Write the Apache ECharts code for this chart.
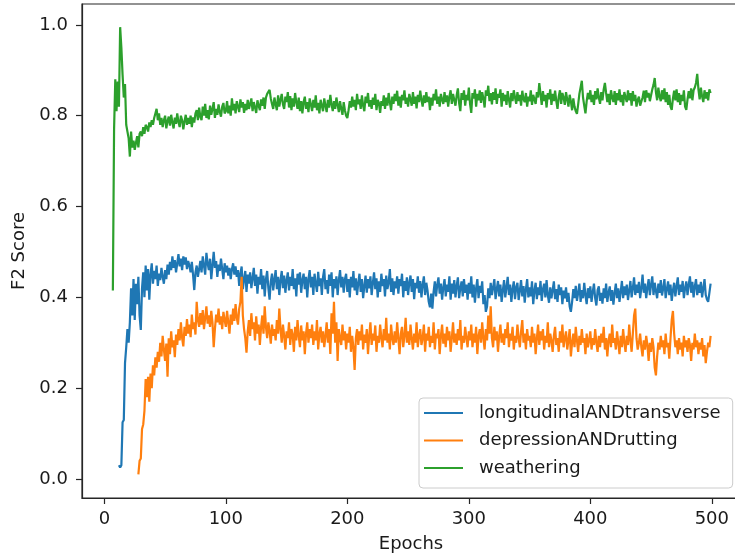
<!DOCTYPE html>
<html>
<head>
<meta charset="utf-8">
<script src="https://cdn.jsdelivr.net/npm/echarts@6/dist/echarts.min.js"></script>
<style>
  html, body { margin: 0; padding: 0; background: #fff; }
  #chart { width: 735px; height: 558px; }
</style>
</head>
<body>
<div id="chart"></div>
<script>
// first epoch of each series (earlier epochs have no value)
const blueStart = 12
const orangeStart = 28
const greenStart = 7

const xTicks = [0, 100, 200, 300, 400, 500]
const yTicks = [0, 0.2, 0.4, 0.6, 0.8, 1.0]

const seriesNames = ['longitudinalANDtransverse', 'depressionANDrutting', 'weathering']

// longitudinalANDtransverse, epochs 12..499
const blueValues = [
  0.03, 0.025, 0.03, 0.125, 0.13, 0.255, 0.29, 0.33,
  0.3, 0.345, 0.42, 0.36, 0.44, 0.35, 0.43, 0.385, 0.445, 0.36,
  0.328, 0.42, 0.455, 0.4, 0.47, 0.415, 0.462, 0.395, 0.45, 0.475,
  0.43, 0.458, 0.44, 0.47, 0.425, 0.452, 0.438, 0.465, 0.445, 0.43,
  0.46, 0.44, 0.472, 0.45, 0.478, 0.46, 0.49, 0.465, 0.482, 0.455,
  0.475, 0.495, 0.468, 0.485, 0.46, 0.49, 0.472, 0.488, 0.462, 0.48,
  0.47, 0.455, 0.478, 0.45, 0.416, 0.455, 0.47, 0.445, 0.462, 0.48,
  0.455, 0.49, 0.47, 0.45, 0.498, 0.475, 0.46, 0.485, 0.44, 0.47,
  0.5, 0.465, 0.48, 0.445, 0.472, 0.458, 0.485, 0.462, 0.44, 0.475,
  0.455, 0.47, 0.448, 0.465, 0.44, 0.462, 0.475, 0.45, 0.468, 0.445,
  0.46, 0.425, 0.452, 0.468, 0.418, 0.44, 0.458, 0.412, 0.45, 0.43,
  0.455, 0.42, 0.442, 0.465, 0.425, 0.45, 0.408, 0.445, 0.428, 0.462,
  0.418, 0.448, 0.402, 0.44, 0.458, 0.42, 0.395, 0.435, 0.452, 0.415,
  0.44, 0.46, 0.418, 0.445, 0.405, 0.438, 0.458, 0.42, 0.448, 0.41,
  0.438, 0.455, 0.415, 0.445, 0.425, 0.462, 0.418, 0.442, 0.402, 0.452,
  0.428, 0.455, 0.41, 0.438, 0.452, 0.418, 0.445, 0.4, 0.44, 0.46,
  0.422, 0.445, 0.405, 0.452, 0.43, 0.412, 0.456, 0.425, 0.442, 0.405,
  0.445, 0.462, 0.418, 0.438, 0.408, 0.45, 0.425, 0.455, 0.4, 0.44,
  0.42, 0.446, 0.405, 0.438, 0.46, 0.422, 0.445, 0.41, 0.44, 0.452,
  0.412, 0.44, 0.4, 0.445, 0.422, 0.458, 0.415, 0.442, 0.405, 0.432,
  0.452, 0.412, 0.44, 0.398, 0.425, 0.448, 0.41, 0.44, 0.42, 0.446,
  0.405, 0.432, 0.455, 0.418, 0.442, 0.4, 0.435, 0.412, 0.452, 0.425,
  0.44, 0.402, 0.448, 0.418, 0.432, 0.462, 0.412, 0.442, 0.405, 0.435,
  0.42, 0.446, 0.408, 0.44, 0.425, 0.452, 0.4, 0.436, 0.414, 0.444,
  0.405, 0.432, 0.448, 0.412, 0.44, 0.396, 0.432, 0.42, 0.446, 0.41,
  0.436, 0.4, 0.428, 0.446, 0.405, 0.432, 0.415, 0.39, 0.378, 0.408,
  0.375, 0.412, 0.435, 0.402, 0.428, 0.444, 0.408, 0.43, 0.395, 0.422,
  0.44, 0.402, 0.428, 0.412, 0.446, 0.395, 0.43, 0.408, 0.438, 0.4,
  0.425, 0.444, 0.398, 0.42, 0.435, 0.402, 0.44, 0.41, 0.428, 0.395,
  0.432, 0.408, 0.446, 0.4, 0.428, 0.388, 0.42, 0.44, 0.398, 0.425,
  0.41, 0.435, 0.385, 0.405, 0.368, 0.38, 0.42, 0.398, 0.432, 0.405,
  0.422, 0.44, 0.396, 0.418, 0.436, 0.402, 0.428, 0.39, 0.415, 0.438,
  0.4, 0.422, 0.445, 0.405, 0.428, 0.39, 0.418, 0.435, 0.396, 0.422,
  0.432, 0.394, 0.415, 0.438, 0.402, 0.425, 0.388, 0.418, 0.44, 0.4,
  0.422, 0.402, 0.435, 0.385, 0.415, 0.432, 0.396, 0.422, 0.405, 0.436,
  0.392, 0.418, 0.43, 0.4, 0.438, 0.405, 0.388, 0.422, 0.398, 0.416,
  0.435, 0.396, 0.418, 0.39, 0.428, 0.405, 0.422, 0.385, 0.415, 0.398,
  0.422, 0.39, 0.41, 0.38, 0.368, 0.39, 0.418, 0.398, 0.425, 0.392,
  0.41, 0.43, 0.39, 0.416, 0.398, 0.432, 0.405, 0.385, 0.42, 0.398,
  0.424, 0.39, 0.412, 0.43, 0.398, 0.382, 0.416, 0.424, 0.392, 0.41,
  0.386, 0.42, 0.398, 0.43, 0.39, 0.41, 0.424, 0.392, 0.416, 0.384,
  0.41, 0.43, 0.398, 0.42, 0.39, 0.412, 0.436, 0.398, 0.424, 0.405,
  0.428, 0.394, 0.415, 0.436, 0.4, 0.42, 0.444, 0.405, 0.428, 0.41,
  0.434, 0.398, 0.42, 0.45, 0.41, 0.43, 0.398, 0.422, 0.44, 0.405,
  0.428, 0.446, 0.405, 0.432, 0.414, 0.398, 0.43, 0.41, 0.438, 0.404,
  0.42, 0.44, 0.398, 0.418, 0.435, 0.405, 0.428, 0.392, 0.415, 0.432,
  0.402, 0.424, 0.444, 0.405, 0.428, 0.412, 0.436, 0.398, 0.42, 0.435,
  0.405, 0.428, 0.446, 0.41, 0.434, 0.4, 0.424, 0.44, 0.405, 0.428,
  0.41, 0.434, 0.4, 0.42, 0.44, 0.405, 0.395, 0.39, 0.41, 0.43
]

// depressionANDrutting, epochs 28..499
const orangeValues = [
  0.01, 0.04,
  0.045, 0.11, 0.12, 0.15, 0.22, 0.18, 0.225, 0.17, 0.232, 0.2,
  0.25, 0.228, 0.268, 0.245, 0.28, 0.258, 0.3, 0.27, 0.315, 0.285,
  0.26, 0.298, 0.225, 0.31, 0.275, 0.325, 0.29, 0.305, 0.268, 0.318,
  0.295, 0.33, 0.305, 0.345, 0.31, 0.292, 0.335, 0.315, 0.352, 0.32,
  0.34, 0.312, 0.362, 0.33, 0.345, 0.318, 0.39, 0.35, 0.335, 0.365,
  0.34, 0.372, 0.33, 0.355, 0.38, 0.342, 0.36, 0.335, 0.37, 0.345,
  0.29, 0.33, 0.362, 0.345, 0.375, 0.34, 0.358, 0.33, 0.368, 0.35,
  0.335, 0.37, 0.345, 0.32, 0.362, 0.34, 0.375, 0.348, 0.385, 0.355,
  0.34, 0.375, 0.39, 0.445, 0.36, 0.33, 0.31, 0.278, 0.325, 0.35,
  0.315, 0.365, 0.33, 0.345, 0.305, 0.358, 0.32, 0.34, 0.295, 0.335,
  0.36, 0.32, 0.38, 0.335, 0.31, 0.345, 0.325, 0.298, 0.34, 0.315,
  0.33, 0.305, 0.35, 0.32, 0.375, 0.33, 0.3, 0.34, 0.315, 0.285,
  0.325, 0.31, 0.345, 0.295, 0.33, 0.318, 0.28, 0.335, 0.305, 0.35,
  0.315, 0.29, 0.338, 0.305, 0.325, 0.275, 0.32, 0.345, 0.3, 0.33,
  0.31, 0.34, 0.295, 0.325, 0.305, 0.35, 0.285, 0.32, 0.335, 0.3,
  0.325, 0.29, 0.315, 0.345, 0.3, 0.33, 0.275, 0.365, 0.32, 0.39,
  0.3, 0.345, 0.26, 0.33, 0.31, 0.295, 0.34, 0.305, 0.325, 0.285,
  0.32, 0.3, 0.335, 0.28, 0.315, 0.29, 0.24, 0.31, 0.33, 0.295,
  0.325, 0.305, 0.34, 0.285, 0.318, 0.3, 0.33, 0.275, 0.315, 0.345,
  0.295, 0.32, 0.305, 0.338, 0.28, 0.315, 0.3, 0.34, 0.31, 0.29,
  0.33, 0.305, 0.355, 0.3, 0.32, 0.285, 0.34, 0.31, 0.295, 0.325,
  0.3, 0.345, 0.31, 0.275, 0.32, 0.335, 0.29, 0.315, 0.355, 0.3,
  0.325, 0.295, 0.34, 0.31, 0.285, 0.32, 0.3, 0.345, 0.29, 0.315,
  0.33, 0.295, 0.31, 0.34, 0.28, 0.32, 0.305, 0.335, 0.29, 0.315,
  0.3, 0.345, 0.285, 0.32, 0.31, 0.33, 0.275, 0.315, 0.34, 0.298,
  0.32, 0.29, 0.335, 0.305, 0.325, 0.28, 0.31, 0.345, 0.3, 0.32,
  0.295, 0.33, 0.305, 0.35, 0.285, 0.315, 0.3, 0.335, 0.31, 0.29,
  0.325, 0.305, 0.34, 0.29, 0.32, 0.3, 0.335, 0.275, 0.315, 0.33,
  0.3, 0.345, 0.31, 0.285, 0.33, 0.305, 0.36, 0.32, 0.38, 0.31,
  0.29, 0.335, 0.305, 0.325, 0.28, 0.315, 0.34, 0.3, 0.32, 0.295,
  0.33, 0.31, 0.345, 0.29, 0.32, 0.305, 0.335, 0.285, 0.315, 0.3,
  0.34, 0.31, 0.29, 0.325, 0.35, 0.3, 0.32, 0.285, 0.33, 0.305,
  0.315, 0.29, 0.335, 0.3, 0.32, 0.275, 0.31, 0.34, 0.295, 0.325,
  0.305, 0.33, 0.285, 0.315, 0.3, 0.345, 0.29, 0.32, 0.305, 0.28,
  0.315, 0.335, 0.295, 0.31, 0.28, 0.325, 0.3, 0.34, 0.29, 0.31,
  0.325, 0.285, 0.305, 0.33, 0.27, 0.3, 0.32, 0.29, 0.335, 0.305,
  0.28, 0.315, 0.295, 0.33, 0.3, 0.31, 0.275, 0.32, 0.29, 0.305,
  0.325, 0.285, 0.31, 0.295, 0.33, 0.3, 0.28, 0.315, 0.29, 0.32,
  0.3, 0.335, 0.285, 0.31, 0.27, 0.305, 0.32, 0.29, 0.34, 0.3,
  0.31, 0.285, 0.325, 0.3, 0.275, 0.315, 0.29, 0.33, 0.3, 0.28,
  0.315, 0.295, 0.34, 0.305, 0.28, 0.32, 0.36, 0.375, 0.31, 0.285,
  0.3, 0.32, 0.29, 0.27, 0.305, 0.285, 0.315, 0.295, 0.26, 0.3,
  0.28, 0.31, 0.29, 0.245, 0.228, 0.27, 0.3, 0.285, 0.315, 0.29,
  0.305, 0.275, 0.32, 0.29, 0.3, 0.265, 0.31, 0.35, 0.37, 0.32,
  0.29, 0.305, 0.275, 0.31, 0.285, 0.3, 0.27, 0.315, 0.29, 0.305,
  0.28, 0.31, 0.295, 0.26, 0.3, 0.285, 0.32, 0.29, 0.305, 0.275,
  0.3, 0.285, 0.31, 0.27, 0.295, 0.255, 0.28, 0.3, 0.29, 0.315
]

// weathering, epochs 7..499
const greenValues = [
  0.415, 0.77, 0.88,
  0.81, 0.875, 0.82, 0.995, 0.95, 0.89, 0.84, 0.87, 0.78, 0.765,
  0.75, 0.71, 0.765, 0.73, 0.745, 0.725, 0.74, 0.755, 0.73, 0.76,
  0.765, 0.755, 0.775, 0.76, 0.78, 0.775, 0.765, 0.785, 0.775, 0.79,
  0.78, 0.795, 0.805, 0.815, 0.79, 0.805, 0.78, 0.795, 0.775, 0.79,
  0.8, 0.772, 0.788, 0.798, 0.778, 0.802, 0.785, 0.772, 0.796, 0.782,
  0.805, 0.786, 0.775, 0.8, 0.79, 0.77, 0.788, 0.802, 0.78, 0.795,
  0.782, 0.8, 0.775, 0.796, 0.785, 0.805, 0.812, 0.79, 0.818, 0.798,
  0.79, 0.82, 0.8, 0.826, 0.795, 0.812, 0.792, 0.822, 0.802, 0.815,
  0.83, 0.795, 0.815, 0.802, 0.825, 0.808, 0.798, 0.82, 0.828, 0.805,
  0.81, 0.832, 0.805, 0.822, 0.8, 0.838, 0.812, 0.826, 0.805, 0.832,
  0.82, 0.808, 0.836, 0.818, 0.83, 0.806, 0.826, 0.812, 0.835, 0.815,
  0.826, 0.838, 0.81, 0.83, 0.818, 0.806, 0.834, 0.822, 0.812, 0.836,
  0.822, 0.84, 0.815, 0.84, 0.848, 0.852, 0.857, 0.838, 0.826, 0.815,
  0.84, 0.825, 0.812, 0.845, 0.82, 0.835, 0.848, 0.825, 0.815, 0.842,
  0.83, 0.852, 0.818, 0.843, 0.812, 0.838, 0.82, 0.85, 0.83, 0.815,
  0.84, 0.81, 0.832, 0.805, 0.83, 0.842, 0.815, 0.83, 0.808, 0.838,
  0.825, 0.81, 0.835, 0.818, 0.845, 0.812, 0.828, 0.805, 0.835, 0.822,
  0.81, 0.838, 0.822, 0.808, 0.835, 0.818, 0.846, 0.825, 0.81, 0.832,
  0.815, 0.84, 0.824, 0.808, 0.832, 0.815, 0.802, 0.83, 0.812, 0.8,
  0.795, 0.812, 0.832, 0.818, 0.842, 0.82, 0.835, 0.812, 0.848, 0.825,
  0.836, 0.815, 0.845, 0.822, 0.81, 0.842, 0.828, 0.85, 0.82, 0.834,
  0.815, 0.84, 0.824, 0.848, 0.812, 0.835, 0.828, 0.806, 0.832, 0.822,
  0.845, 0.815, 0.84, 0.822, 0.85, 0.83, 0.812, 0.842, 0.826, 0.848,
  0.832, 0.855, 0.822, 0.842, 0.818, 0.846, 0.834, 0.856, 0.826, 0.84,
  0.82, 0.848, 0.836, 0.822, 0.852, 0.826, 0.842, 0.816, 0.846, 0.83,
  0.855, 0.835, 0.82, 0.845, 0.828, 0.852, 0.83, 0.842, 0.812, 0.84,
  0.822, 0.848, 0.834, 0.858, 0.826, 0.842, 0.82, 0.848, 0.835, 0.826,
  0.852, 0.83, 0.845, 0.82, 0.842, 0.856, 0.826, 0.848, 0.835, 0.822,
  0.845, 0.86, 0.828, 0.81, 0.85, 0.835, 0.856, 0.822, 0.846, 0.834,
  0.862, 0.826, 0.806, 0.85, 0.838, 0.858, 0.82, 0.848, 0.834, 0.856,
  0.828, 0.852, 0.838, 0.818, 0.856, 0.844, 0.866, 0.832, 0.85, 0.825,
  0.852, 0.835, 0.86, 0.826, 0.848, 0.84, 0.858, 0.82, 0.85, 0.832,
  0.846, 0.824, 0.854, 0.836, 0.818, 0.85, 0.832, 0.856, 0.84, 0.826,
  0.852, 0.832, 0.846, 0.822, 0.855, 0.836, 0.83, 0.85, 0.82, 0.842,
  0.832, 0.856, 0.824, 0.846, 0.836, 0.826, 0.852, 0.84, 0.872, 0.848,
  0.824, 0.854, 0.832, 0.846, 0.818, 0.85, 0.836, 0.858, 0.824, 0.848,
  0.832, 0.855, 0.832, 0.815, 0.842, 0.856, 0.826, 0.85, 0.84, 0.824,
  0.852, 0.836, 0.82, 0.846, 0.832, 0.812, 0.838, 0.82, 0.81, 0.804,
  0.825, 0.848, 0.862, 0.877, 0.84, 0.822, 0.805, 0.832, 0.85, 0.836,
  0.856, 0.83, 0.846, 0.824, 0.854, 0.836, 0.86, 0.84, 0.826, 0.852,
  0.834, 0.858, 0.872, 0.85, 0.83, 0.848, 0.824, 0.856, 0.84, 0.83,
  0.854, 0.824, 0.85, 0.834, 0.858, 0.83, 0.846, 0.822, 0.852, 0.84,
  0.83, 0.856, 0.834, 0.85, 0.822, 0.854, 0.832, 0.846, 0.82, 0.835,
  0.842, 0.822, 0.818, 0.84, 0.855, 0.83, 0.856, 0.84, 0.85, 0.832,
  0.845, 0.858, 0.868, 0.883, 0.852, 0.834, 0.862, 0.842, 0.832, 0.856,
  0.836, 0.86, 0.83, 0.852, 0.824, 0.846, 0.82, 0.813, 0.838, 0.855,
  0.834, 0.858, 0.83, 0.85, 0.824, 0.846, 0.832, 0.856, 0.82, 0.813,
  0.836, 0.854, 0.838, 0.86, 0.834, 0.856, 0.862, 0.872, 0.892, 0.858,
  0.836, 0.862, 0.842, 0.83, 0.856, 0.838, 0.852, 0.834, 0.858, 0.85
]

const colors = ['#1f77b4', '#ff7f0e', '#2ca02c']
const axisColor = '#262626'
const textColor = '#1a1a1a'
const fontFamily = '"DejaVu Sans", sans-serif'
const fontSize = 18

function toPairs(start, values) {
  return values.map((v, i) => [start + i, v])
}

const chart = echarts.init(document.getElementById('chart'), null, { renderer: 'canvas' })

chart.setOption({
  animation: false,
  backgroundColor: '#ffffff',
  textStyle: { fontFamily: fontFamily, color: textColor },
  grid: {
    left: 82,
    top: 4,
    right: -5,
    bottom: 60,
    show: true,
    borderColor: axisColor,
    borderWidth: 1.2,
    outerBoundsMode: 'none'
  },
  legend: {
    orient: 'vertical',
    left: 419,
    top: 398,
    padding: [5, 12, 10, 5],
    itemWidth: 39,
    itemHeight: 2,
    itemGap: 7.5,
    icon: 'rect',
    backgroundColor: 'rgba(255,255,255,0.8)',
    borderColor: '#cccccc',
    borderWidth: 1,
    borderRadius: 4,
    textStyle: {
      fontFamily: fontFamily,
      fontSize: fontSize,
      color: textColor,
      lineHeight: 20,
      padding: [0, 0, 0, 11]
    },
    data: seriesNames
  },
  xAxis: {
    type: 'value',
    min: -18.4,
    max: 523.2,
    name: 'Epochs',
    nameLocation: 'middle',
    nameGap: 37,
    nameTextStyle: { fontFamily: fontFamily, fontSize: fontSize, color: textColor },
    axisLine: { show: true, onZero: false, lineStyle: { color: axisColor, width: 1.2 } },
    axisTick: { show: true, length: 6, customValues: xTicks, lineStyle: { color: axisColor, width: 1.2 } },
    axisLabel: {
      customValues: xTicks,
      margin: 12,
      fontFamily: fontFamily,
      fontSize: fontSize,
      color: textColor
    },
    splitLine: { show: false }
  },
  yAxis: {
    type: 'value',
    min: -0.042,
    max: 1.046,
    name: 'F2 Score',
    nameLocation: 'middle',
    nameGap: 53,
    nameTextStyle: { fontFamily: fontFamily, fontSize: fontSize, color: textColor },
    axisLine: { show: true, onZero: false, lineStyle: { color: axisColor, width: 1.2 } },
    axisTick: { show: true, length: 6, customValues: yTicks, lineStyle: { color: axisColor, width: 1.2 } },
    axisLabel: {
      customValues: yTicks,
      margin: 14,
      fontFamily: fontFamily,
      fontSize: fontSize,
      color: textColor,
      formatter: v => v.toFixed(1)
    },
    splitLine: { show: false }
  },
  series: [
    { name: seriesNames[0], data: toPairs(blueStart, blueValues) },
    { name: seriesNames[1], data: toPairs(orangeStart, orangeValues) },
    { name: seriesNames[2], data: toPairs(greenStart, greenValues) }
  ].map((s, i) => ({
    type: 'line',
    name: s.name,
    data: s.data,
    showSymbol: false,
    symbol: 'none',
    color: colors[i],
    lineStyle: { color: colors[i], width: 2.2 }
  }))
})
</script>
</body>
</html>
